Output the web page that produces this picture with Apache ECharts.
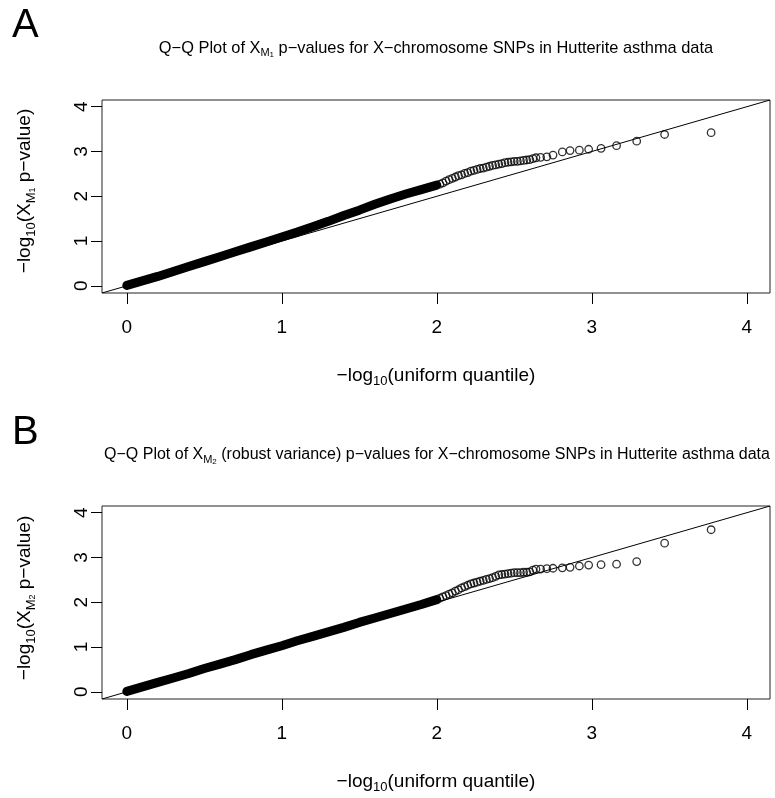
<!DOCTYPE html>
<html>
<head>
<meta charset="utf-8">
<script src="https://cdn.jsdelivr.net/npm/echarts@6/dist/echarts.min.js"></script>
<style>
html, body { margin: 0; padding: 0; background: #fff; }
#chart { width: 775px; height: 798px; }
</style>
</head>
<body>
<div id="chart"></div>
<script>
// tick values shared by both panels
const tickValues = [0, 1, 2, 3, 4]

// panel A: dense part of the Q-Q cloud (drawn as a solid band)
const bandAX = [0.00, 0.10, 0.20, 0.30, 0.40, 0.50, 0.60, 0.70, 0.80, 0.90, 1.00, 1.10, 1.20, 1.30, 1.40, 1.50, 1.60, 1.70, 1.80, 1.90, 2.00]
const bandAY = [0.01, 0.11, 0.21, 0.32, 0.43, 0.54, 0.65, 0.76, 0.87, 0.98, 1.09, 1.20, 1.32, 1.44, 1.57, 1.69, 1.82, 1.94, 2.05, 2.15, 2.25]
// panel A: separate circles
const pointsAX = [2.02, 2.04, 2.06, 2.08, 2.10, 2.12, 2.14, 2.16, 2.18, 2.20, 2.22, 2.24, 2.26, 2.28, 2.30, 2.32, 2.34, 2.36, 2.38, 2.40, 2.42, 2.44, 2.46, 2.48, 2.50, 2.52, 2.54, 2.56, 2.58, 2.60, 2.62, 2.64, 2.67, 2.71, 2.75, 2.81, 2.86, 2.92, 2.98, 3.06, 3.16, 3.29, 3.47, 3.77]
const pointsAY = [2.27, 2.30, 2.34, 2.37, 2.40, 2.43, 2.46, 2.48, 2.51, 2.53, 2.56, 2.58, 2.60, 2.62, 2.63, 2.65, 2.67, 2.69, 2.70, 2.72, 2.73, 2.75, 2.76, 2.77, 2.78, 2.78, 2.79, 2.80, 2.81, 2.82, 2.84, 2.86, 2.87, 2.88, 2.92, 2.99, 3.02, 3.03, 3.05, 3.07, 3.13, 3.23, 3.38, 3.42]

// panel B
const bandBX = [0.00, 0.10, 0.20, 0.30, 0.40, 0.50, 0.60, 0.70, 0.80, 0.90, 1.00, 1.10, 1.20, 1.30, 1.40, 1.50, 1.60, 1.70, 1.80, 1.90, 2.00]
const bandBY = [0.01, 0.11, 0.21, 0.31, 0.41, 0.52, 0.62, 0.72, 0.83, 0.93, 1.03, 1.14, 1.24, 1.34, 1.44, 1.55, 1.65, 1.75, 1.85, 1.95, 2.06]
const pointsBX = [2.02, 2.04, 2.06, 2.08, 2.10, 2.12, 2.14, 2.16, 2.18, 2.20, 2.22, 2.24, 2.26, 2.28, 2.30, 2.32, 2.34, 2.36, 2.38, 2.40, 2.42, 2.44, 2.46, 2.48, 2.50, 2.52, 2.54, 2.56, 2.58, 2.60, 2.62, 2.64, 2.67, 2.71, 2.75, 2.81, 2.86, 2.92, 2.98, 3.06, 3.16, 3.29, 3.47, 3.77]
const pointsBY = [2.09, 2.12, 2.15, 2.18, 2.21, 2.25, 2.28, 2.32, 2.35, 2.38, 2.41, 2.43, 2.45, 2.47, 2.49, 2.51, 2.53, 2.55, 2.58, 2.61, 2.62, 2.63, 2.64, 2.65, 2.66, 2.66, 2.66, 2.67, 2.67, 2.68, 2.72, 2.74, 2.74, 2.75, 2.76, 2.77, 2.78, 2.81, 2.83, 2.84, 2.85, 2.91, 3.32, 3.62]

const axisMin = -0.16
const axisMax = 4.15

const font = 'Liberation Sans'
const chart = echarts.init(document.getElementById('chart'), null, { renderer: 'canvas' })

const grids = [
  { left: 102, top: 100, width: 668, height: 193 },
  { left: 102, top: 506, width: 668, height: 193 },
]

function makeAxis(i, isY) {
  return {
    type: 'value',
    gridIndex: i,
    min: axisMin,
    max: axisMax,
    axisLine: { show: false, onZero: false },
    splitLine: { show: false },
    axisTick: {
      show: true,
      length: 11,
      customValues: tickValues,
      lineStyle: { color: '#000', width: 1 },
    },
    axisLabel: {
      customValues: tickValues,
      margin: isY ? 11 : 25,
      rotate: isY ? 90 : 0,
      fontSize: 19,
      fontFamily: font,
      color: '#000',
    },
  }
}

function panelSeries(i, bandX, bandY, ptsX, ptsY) {
  return [
    {
      type: 'line',
      xAxisIndex: i,
      yAxisIndex: i,
      data: [[axisMin, axisMin], [axisMax, axisMax]],
      symbol: 'none',
      lineStyle: { color: '#000', width: 1 },
      z: 1,
    },
    {
      type: 'line',
      xAxisIndex: i,
      yAxisIndex: i,
      data: bandX.map((x, k) => [x, bandY[k]]),
      symbol: 'none',
      lineStyle: { color: '#000', width: 9, cap: 'round', join: 'round' },
      z: 2,
    },
    {
      type: 'scatter',
      xAxisIndex: i,
      yAxisIndex: i,
      data: ptsX.map((x, k) => [x, ptsY[k]]),
      symbol: 'circle',
      symbolSize: 7.5,
      itemStyle: { color: 'rgba(0,0,0,0)', borderColor: '#000', borderWidth: 1.3 },
      z: 3,
    },
  ]
}

const rich = {
  n: { fontSize: 16.4, fontFamily: font, color: '#000' },
  b: { fontSize: 16, fontFamily: font, color: '#000' },
  s1: { fontSize: 11, fontFamily: font, color: '#000', verticalAlign: 'bottom', padding: [9, 0, 0, 0] },
  s2: { fontSize: 8, fontFamily: font, color: '#000', verticalAlign: 'bottom', padding: [13, 0, 0, 0] },
  L: { fontSize: 19, fontFamily: font, color: '#000' },
  Ls: { fontSize: 13, fontFamily: font, color: '#000', verticalAlign: 'bottom', padding: [11, 0, 0, 0] },
  Ls2: { fontSize: 9, fontFamily: font, color: '#000', verticalAlign: 'bottom', padding: [16, 0, 0, 0] },
}

function label(text, x, y, rotation) {
  return {
    type: 'text',
    x: x,
    y: y,
    rotation: rotation || 0,
    style: { text: text, rich: rich, align: 'center', verticalAlign: 'middle' },
  }
}

const titleA = '{n|Q−Q Plot of X}{s1|M}{s2|1}{n| p−values for X−chromosome SNPs in Hutterite asthma data}'
const titleB = '{b|Q−Q Plot of X}{s1|M}{s2|2}{b| (robust variance) p−values for X−chromosome SNPs in Hutterite asthma data}'
const xName = '{L|−log}{Ls|10}{L|(uniform quantile)}'
const yNameA = '{L|−log}{Ls|10}{L|(X}{Ls|M}{Ls2|1}{L| p−value)}'
const yNameB = '{L|−log}{Ls|10}{L|(X}{Ls|M}{Ls2|2}{L| p−value)}'

chart.setOption({
  animation: false,
  grid: grids.map(g => ({ ...g, show: true, borderColor: '#222', borderWidth: 1, backgroundColor: 'transparent' })),
  xAxis: [makeAxis(0, false), makeAxis(1, false)],
  yAxis: [makeAxis(0, true), makeAxis(1, true)],
  series: [
    ...panelSeries(0, bandAX, bandAY, pointsAX, pointsAY),
    ...panelSeries(1, bandBX, bandBY, pointsBX, pointsBY),
  ],
  graphic: [
    { type: 'text', x: 12, y: 6, style: { text: 'A', fontSize: 40, fontFamily: font, fill: '#000' } },
    { type: 'text', x: 12, y: 413, style: { text: 'B', fontSize: 40, fontFamily: font, fill: '#000' } },
    label(titleA, 436, 48),
    label(titleB, 437, 455),
    label(xName, 436, 376),
    label(xName, 436, 782),
    label(yNameA, 25, 191, Math.PI / 2),
    label(yNameB, 25, 598, Math.PI / 2),
  ],
})
</script>
</body>
</html>
